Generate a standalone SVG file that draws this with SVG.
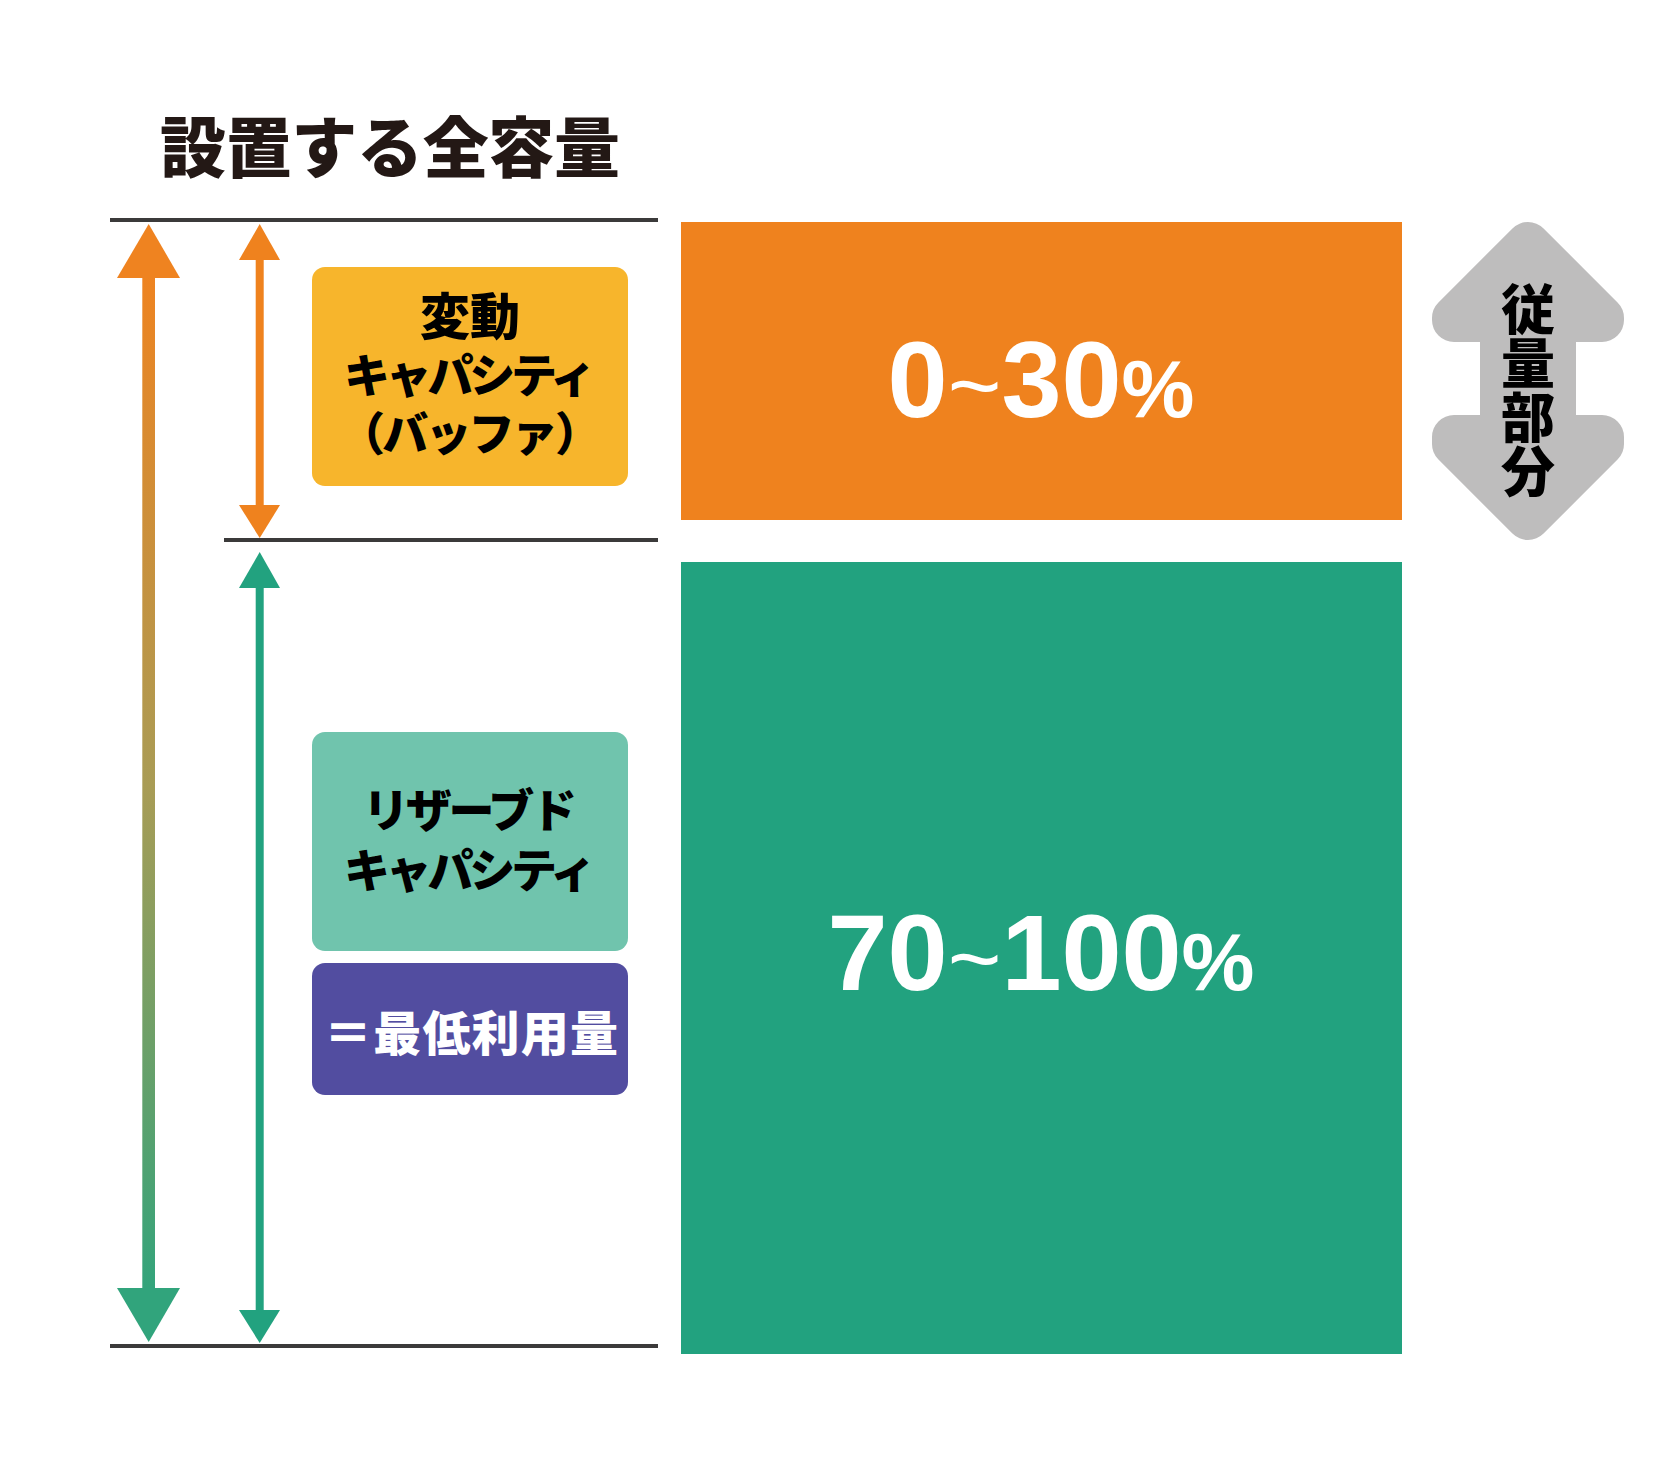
<svg xmlns="http://www.w3.org/2000/svg" width="1668" height="1460" viewBox="0 0 1668 1460">
<defs>
<linearGradient id="gBig" gradientUnits="userSpaceOnUse" x1="0" y1="270" x2="0" y2="1300">
<stop offset="0" stop-color="#EF8320"/>
<stop offset="0.5" stop-color="#A99C55"/>
<stop offset="1" stop-color="#30A47C"/>
</linearGradient>
<style>
.jp{font-family:"Noto Sans CJK JP","Noto Sans CJK SC",sans-serif;font-weight:900;text-anchor:middle}
.num{font-family:"Liberation Sans",Arial,sans-serif;font-weight:700;fill:#fff;text-anchor:middle}
.dim{stroke:#3B3A3A;stroke-width:4;fill:none}
</style>
</defs>
<rect width="1668" height="1460" fill="#fff"/>

<g id="title">
<text class="jp" x="390" y="172" font-size="66" fill="#231815" textLength="460" lengthAdjust="spacing">設置する全容量</text>
</g>

<g id="connectors">
<line class="dim" x1="110" y1="220" x2="658" y2="220"/>
<line class="dim" x1="224" y1="540" x2="658" y2="540"/>
<line class="dim" x1="110" y1="1346" x2="658" y2="1346"/>
<path d="M142.3 276 H155 V1290 H142.3 Z" fill="url(#gBig)"/>
<polygon points="148.7,224 180,278 117,278" fill="#EF8320"/>
<polygon points="117,1288 180,1288 148.7,1342" fill="#31A47C"/>
<rect x="255.7" y="258" width="8" height="248" fill="#EF821E"/>
<polygon points="259.7,224 280,260 239,260" fill="#EF821E"/>
<polygon points="239,505 280,505 259.7,538" fill="#EF821E"/>
<rect x="255.7" y="586" width="8" height="726" fill="#22A27F"/>
<polygon points="259.7,552 280,588 239,588" fill="#22A27F"/>
<polygon points="239,1310 280,1310 259.7,1343" fill="#22A27F"/>
</g>

<g id="buffer-label">
<rect x="312" y="267" width="316" height="219" rx="13" fill="#F7B52C"/>
<text class="jp" x="470" y="335" font-size="50" fill="#000">変動</text>
<text class="jp" x="470" y="392" font-size="46" fill="#000" textLength="252" lengthAdjust="spacing">キャパシティ</text>
<text class="jp" x="470" y="450" font-size="46" fill="#000" textLength="262" lengthAdjust="spacing">（バッファ）</text>
</g>

<g id="reserved-label">
<rect x="312" y="732" width="316" height="219" rx="13" fill="#70C4AD"/>
<text class="jp" x="470" y="827" font-size="46" fill="#000" textLength="214" lengthAdjust="spacing">リザーブド</text>
<text class="jp" x="470" y="887" font-size="46" fill="#000" textLength="252" lengthAdjust="spacing">キャパシティ</text>
</g>

<g id="minimum-label">
<rect x="312" y="963" width="316" height="132" rx="13" fill="#524DA0"/>
<text class="jp" x="471" y="1051" font-size="48" fill="#fff" textLength="294" lengthAdjust="spacing">＝最低利用量</text>
</g>

<g id="buffer-block">
<rect x="681" y="222" width="721" height="298" fill="#EF821E"/>
<text class="num" x="1041" y="417" font-size="108">0<tspan font-weight="400" font-size="92">~</tspan>30<tspan font-size="82">%</tspan></text>
</g>

<g id="reserved-block">
<rect x="681" y="562" width="721" height="792" fill="#22A27F"/>
<text class="num" x="1041" y="990" font-size="108">70<tspan font-weight="400" font-size="92">~</tspan>100<tspan font-size="82">%</tspan></text>
</g>

<g id="usage-arrow">
<path d="M1528 244 L1602 318 L1602 320 L1554 320 L1554 437 L1602 437 L1602 444 L1528 518 L1454 444 L1454 437 L1502 437 L1502 320 L1454 320 L1454 318 Z" fill="#BEBDBD" stroke="#BEBDBD" stroke-width="44" stroke-linejoin="round"/>
<text class="jp" x="1528" y="390" font-size="54" fill="#000" style="writing-mode:vertical-rl">従量部分</text>
</g>
</svg>
